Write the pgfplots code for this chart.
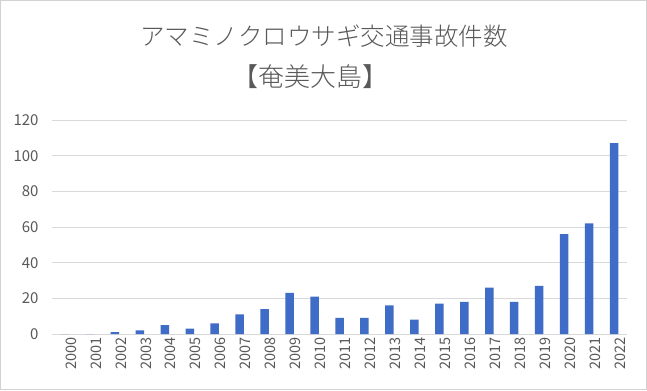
\documentclass[border=0pt]{standalone}
\usepackage{fontspec}
\setmainfont{Noto Sans CJK JP}
\newfontfamily\tfont{Noto Sans CJK JP Light}
\usepackage{pgfplots}
\pgfplotsset{compat=1.18}
\definecolor{barblue}{HTML}{3F6CC6}
\definecolor{txtgray}{HTML}{595959}
\definecolor{gridgray}{HTML}{D9D9D9}
\newcommand{\tl}{\fontsize{14.5bp}{15bp}\selectfont}
\begin{document}
\begin{tikzpicture}[x=1bp,y=1bp]
\fill[white] (0,0) rectangle (647,390);
\draw[gray!35] (0.5,0.5) rectangle (646.5,389.5);
\begin{axis}[
  at={(52bp,56bp)}, anchor=south west,
  scale only axis, width=575bp, height=214bp,
  ymin=0, ymax=120, ytick={0,20,...,120},
  xmin=-0.52, xmax=22.52,
  xtick={0,...,22},
  xticklabels={{\tl 2000},{\tl 2001},{\tl 2002},{\tl 2003},{\tl 2004},{\tl 2005},{\tl 2006},{\tl 2007},{\tl 2008},{\tl 2009},{\tl 2010},{\tl 2011},{\tl 2012},{\tl 2013},{\tl 2014},{\tl 2015},{\tl 2016},{\tl 2017},{\tl 2018},{\tl 2019},{\tl 2020},{\tl 2021},{\tl 2022}},
  yticklabel={\fontsize{15bp}{16bp}\selectfont\pgfmathprintnumber{\tick}},
  x tick label style={rotate=90, anchor=east, text=txtgray},
  y tick label style={text=txtgray},
  /pgf/number format/assume math mode=true,
  ymajorgrids, grid style={gridgray, line width=0.6pt},
  axis line style={draw=none},
  axis x line*=bottom, axis y line*=left,
  tick style={draw=none},
  yticklabel style={xshift=-10bp},
  xticklabel style={yshift=-6bp},
]
\draw[gridgray, line width=0.8pt] (axis cs:-0.52,0) -- (axis cs:22.52,0);
\addplot[ybar, bar width=8.5bp, fill=barblue, draw=none] coordinates {
(0,0) (1,0) (2,1) (3,2) (4,5) (5,3) (6,6) (7,11) (8,14) (9,23) (10,21)
(11,9) (12,9) (13,16) (14,8) (15,17) (16,18) (17,26) (18,18) (19,27)
(20,56) (21,62) (22,107)};
\end{axis}
\node[text=txtgray, font=\tfont\fontsize{24.5bp}{26bp}\selectfont] at (324,354) {アマミノクロウサギ交通事故件数};
\node[text=txtgray, font=\tfont\fontsize{26bp}{27bp}\selectfont] at (310,313) {【奄美大島】};
\end{tikzpicture}
\end{document}
